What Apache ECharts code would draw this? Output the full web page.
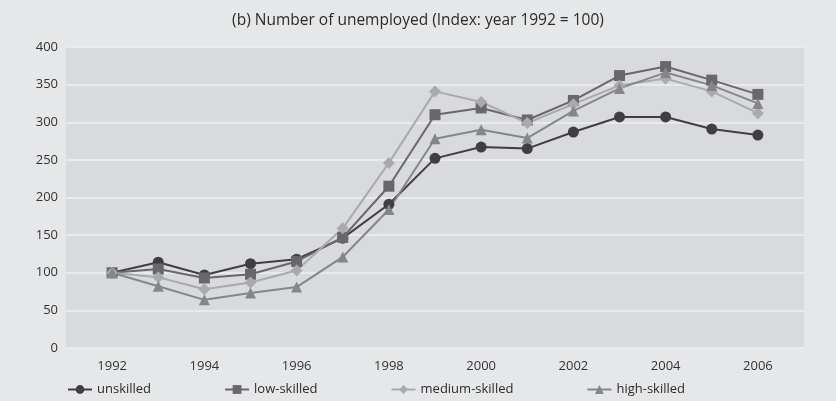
<!DOCTYPE html>
<html>
<head>
<meta charset="utf-8">
<script src="https://cdn.jsdelivr.net/npm/echarts@6/dist/echarts.min.js"></script>
<style>
  html, body { margin: 0; padding: 0; background: #e6e7e9; }
  #chart { width: 836px; height: 401px; }
</style>
</head>
<body>
<div id="chart"></div>
<script>
const years = [1992, 1993, 1994, 1995, 1996, 1997, 1998, 1999, 2000, 2001, 2002, 2003, 2004, 2005, 2006]
const unskilled = [100, 114, 97, 112, 118, 146, 191, 252, 267, 265, 287, 307, 307, 291, 283]
const lowSkilled = [100, 105, 93, 98, 115, 147, 215, 310, 319, 303, 329, 362, 374, 356, 337]
const mediumSkilled = [100, 94, 78, 87, 103, 159, 246, 341, 327, 299, 324, 349, 358, 341, 312]
const highSkilled = [100, 82, 64, 73, 81, 121, 184, 278, 290, 279, 315, 345, 366, 349, 325]
const yTicks = [0, 50, 100, 150, 200, 250, 300, 350, 400]

const font = "'Open Sans', 'Noto Sans', sans-serif"
const chart = echarts.init(document.getElementById("chart"))

function pairs(vals) {
  return years.map((y, i) => [y, vals[i]])
}

function mkSeries(name, vals, color, symbol, size) {
  return {
    name: name,
    type: "line",
    data: pairs(vals),
    symbol: symbol,
    symbolSize: size,
    lineStyle: { color: color, width: 2 },
    itemStyle: { color: color },
    emphasis: { disabled: true }
  }
}

chart.setOption({
  backgroundColor: "#e6e7e9",
  animation: false,
  title: {
    text: "(b) Number of unemployed (Index: year 1992 = 100)",
    left: "center",
    top: 8,
    textStyle: { fontFamily: font, fontSize: 15.5, fontWeight: "normal", color: "#2b2b2b" }
  },
  grid: {
    left: 66, right: 32, top: 47, bottom: 53,
    show: true, backgroundColor: "#d9dadc", borderWidth: 0
  },
  legend: {
    bottom: 0,
    left: 62,
    itemGap: 73,
    itemWidth: 24,
    itemHeight: 11,
    textStyle: { fontFamily: font, fontSize: 13, color: "#2b2b2b" },
    data: ["unskilled", "low-skilled", "medium-skilled", "high-skilled"]
  },
  xAxis: {
    type: "value",
    min: 1991,
    max: 2007,
    interval: 1,
    splitLine: { show: false },
    axisLine: { show: false },
    axisTick: { show: false },
    axisLabel: {
      fontFamily: font, fontSize: 13, color: "#333", margin: 12,
      formatter: v => (v % 2 === 0 && years.includes(v)) ? String(v) : ""
    }
  },
  yAxis: {
    type: "value",
    min: yTicks[0],
    max: yTicks[yTicks.length - 1],
    interval: 50,
    axisLine: { show: false },
    axisTick: { show: false },
    splitLine: { lineStyle: { color: "#eeeff0", width: 1.5 } },
    axisLabel: { fontFamily: font, fontSize: 13, color: "#333", margin: 8 }
  },
  series: [
    mkSeries("unskilled", unskilled, "#3f3f41", "circle", 11),
    mkSeries("low-skilled", lowSkilled, "#68686a", "rect", 11),
    mkSeries("medium-skilled", mediumSkilled, "#a9aaab", "diamond", 12),
    mkSeries("high-skilled", highSkilled, "#858687", "triangle", 11)
  ]
})
</script>
</body>
</html>
